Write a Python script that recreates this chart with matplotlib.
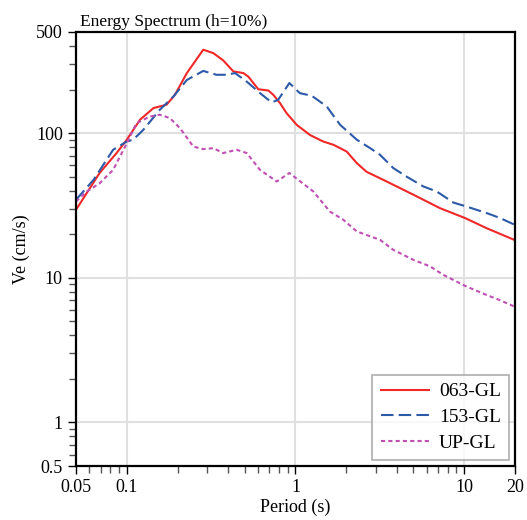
import numpy as np
import matplotlib
matplotlib.use('Agg')
import matplotlib.pyplot as plt
from matplotlib.ticker import LogLocator, NullFormatter, FixedLocator, FixedFormatter

plt.rcParams['font.family'] = ['Liberation Serif', 'DejaVu Serif']

# Period (s) and Ve (cm/s)
x_063 = [0.05, 0.069, 0.087, 0.1, 0.12, 0.144, 0.172, 0.193, 0.227, 0.284, 0.326,
         0.373, 0.428, 0.491, 0.525, 0.602, 0.69, 0.739, 0.81, 0.887, 1.017, 1.22,
         1.46, 1.68, 2.01, 2.31, 2.64, 3.47, 5.0, 7.18, 10.1, 13.6, 20]
y_063 = [29.5, 53, 72.8, 90, 124, 149, 157, 184, 260, 377, 357,
         318, 267, 260, 246, 201, 197, 184, 161, 137, 114, 97,
         87.5, 83, 74.6, 62, 54, 46.3, 37.5, 30.3, 25.9, 22, 18.2]

x_153 = [0.05, 0.0635, 0.083, 0.1, 0.109, 0.125, 0.157, 0.189, 0.227, 0.284, 0.34,
         0.39, 0.438, 0.514, 0.616, 0.722, 0.79, 0.92, 1.06, 1.25, 1.53, 1.84,
         2.31, 2.77, 3.17, 3.8, 4.56, 5.72, 6.87, 8.63, 10.3, 13.6, 16.3, 20]
y_153 = [34.6, 47.5, 76.7, 87.5, 90, 105, 145, 179, 233, 269, 253,
         253, 260, 227, 189, 163, 170, 222, 189, 181, 153, 114,
         90, 78.7, 70.8, 57.3, 50, 42.8, 39.5, 33.1, 31.1, 28, 25.9, 23.2]

x_up = [0.05, 0.058, 0.069, 0.083, 0.1, 0.114, 0.137, 0.157, 0.18, 0.207, 0.248,
        0.284, 0.326, 0.373, 0.448, 0.514, 0.616, 0.774, 0.92, 1.275, 1.6, 1.92,
        2.31, 3.17, 3.8, 5.0, 6.27, 7.5, 10.1, 13.6, 16.3, 20]
y_up = [33.7, 39.5, 45, 55.7, 85, 117, 130, 134, 127, 108, 80.7,
        77.5, 78.7, 72.8, 76.7, 72.8, 55.7, 46.3, 53, 39.5, 28.7, 25.2,
        20.9, 18.3, 15.6, 13.3, 12.0, 10.5, 8.8, 7.6, 7.0, 6.3]

x_ticks = [0.05, 0.1, 1, 10, 20]
x_ticklabels = ['0.05', '0.1', '1', '10', '20']
y_ticks = [0.5, 1, 10, 100, 500]
y_ticklabels = ['0.5', '1', '10', '100', '500']

fig = plt.figure(figsize=(5.27, 5.2), dpi=100)
ax = fig.add_axes([0.1442, 0.1038, 0.833, 0.8347])

ax.plot(x_063, y_063, color='#f02828', lw=1.5, label='063-GL')
ax.plot(x_153, y_153, color='#2d5aa8', lw=1.5, dashes=(6, 2.5), label='153-GL')
ax.plot(x_up, y_up, color='#c050b4', lw=1.5, dashes=(2, 1.5), label='UP-GL')

ax.set_xscale('log')
ax.set_yscale('log')
ax.set_xlim(0.05, 20)
ax.set_ylim(0.5, 500)

ax.xaxis.set_major_locator(FixedLocator(x_ticks))
ax.xaxis.set_major_formatter(FixedFormatter(x_ticklabels))
ax.yaxis.set_major_locator(FixedLocator(y_ticks))
ax.yaxis.set_major_formatter(FixedFormatter(y_ticklabels))
ax.xaxis.set_minor_locator(LogLocator(base=10, subs=np.arange(2, 10), numticks=20))
ax.yaxis.set_minor_locator(LogLocator(base=10, subs=np.arange(2, 10), numticks=20))
ax.xaxis.set_minor_formatter(NullFormatter())
ax.yaxis.set_minor_formatter(NullFormatter())

ax.tick_params(which='major', length=6, width=1, labelsize=13, direction='out')
ax.tick_params(which='minor', length=5, width=1, color='#555555', direction='out')

# grid only at the decades
for v in [0.1, 1, 10]:
    ax.axvline(v, color='#e0e0e0', lw=1.5, zorder=0)
for v in [1, 10, 100]:
    ax.axhline(v, color='#e0e0e0', lw=1.5, zorder=0)

for s in ax.spines.values():
    s.set_linewidth(1.6)

ax.set_xlabel('Period (s)', fontsize=13, labelpad=2)
ax.set_ylabel('Ve (cm/s)', fontsize=13, labelpad=4)
ax.set_title('Energy Spectrum (h=10%)', fontsize=12.5, loc='left', pad=4, x=0.008)

leg = ax.legend(loc='lower right', fontsize=14, frameon=True, fancybox=False,
                edgecolor='#999999', handlelength=2.5, borderaxespad=0.3,
                labelspacing=0.42, handletextpad=0.5, borderpad=0.42)
leg.get_frame().set_linewidth(1.2)

fig.savefig('out.png', dpi=100)
